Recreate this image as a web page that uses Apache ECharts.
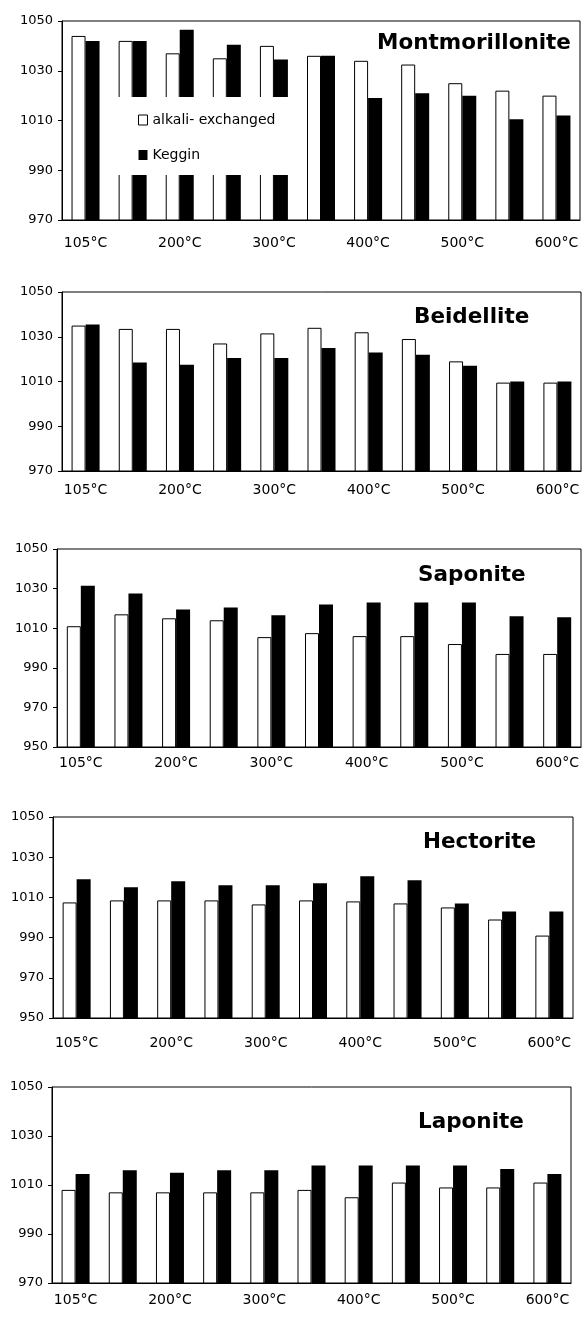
<!DOCTYPE html>
<html>
<head>
<meta charset="utf-8">
<title>Clay series</title>
<script src="https://cdn.jsdelivr.net/npm/echarts@6/dist/echarts.min.js"></script>
<style>
  html, body { margin: 0; padding: 0; background: #fff; }
  #chart { width: 585px; height: 1317px; }
</style>
</head>
<body>
<div id="chart"></div>
<script>
// Calcination temperatures (every other one is labelled)
const categories = ['105°C', '150°C', '200°C', '250°C', '300°C', '350°C',
                    '400°C', '450°C', '500°C', '550°C', '600°C'];

const seriesNames = ['alkali- exchanged', 'Keggin'];
const clayNames = ['Montmorillonite', 'Beidellite', 'Saponite', 'Hectorite', 'Laponite'];

// Values per clay: alkali-exchanged and Keggin-pillared
const montAlkali = [1044, 1042, 1037, 1035, 1040, 1036, 1034, 1032.5, 1025, 1022, 1020];
const montKeggin = [1042, 1042, 1046.5, 1040.5, 1034.5, 1036, 1019, 1021, 1020, 1010.5, 1012];
const beidAlkali = [1035, 1033.5, 1033.5, 1027, 1031.5, 1034, 1032, 1029, 1019, 1009.5, 1009.5];
const beidKeggin = [1035.5, 1018.5, 1017.5, 1020.5, 1020.5, 1025, 1023, 1022, 1017, 1010, 1010];
const sapAlkali  = [1011, 1017, 1015, 1014, 1005.5, 1007.5, 1006, 1006, 1002, 997, 997];
const sapKeggin  = [1031.5, 1027.5, 1019.5, 1020.5, 1016.5, 1022, 1023, 1023, 1023, 1016, 1015.5];
const hecAlkali  = [1007.5, 1008.5, 1008.5, 1008.5, 1006.5, 1008.5, 1008, 1007, 1005, 999, 991];
const hecKeggin  = [1019, 1015, 1018, 1016, 1016, 1017, 1020.5, 1018.5, 1007, 1003, 1003];
const lapAlkali  = [1008, 1007, 1007, 1007, 1007, 1008, 1005, 1011, 1009, 1009, 1011];
const lapKeggin  = [1014.5, 1016, 1015, 1016, 1016, 1018, 1018, 1018, 1018, 1016.5, 1014.5];

// Y tick labels
const ticksFrom970 = [970, 990, 1010, 1030, 1050];
const ticksFrom950 = [950, 970, 990, 1010, 1030, 1050];

const panelData = [
  { alkali: montAlkali, keggin: montKeggin, ticks: ticksFrom970 },
  { alkali: beidAlkali, keggin: beidKeggin, ticks: ticksFrom970 },
  { alkali: sapAlkali,  keggin: sapKeggin,  ticks: ticksFrom950 },
  { alkali: hecAlkali,  keggin: hecKeggin,  ticks: ticksFrom950 },
  { alkali: lapAlkali,  keggin: lapKeggin,  ticks: ticksFrom970 }
];

// Panel frames and label placement
const layout = [
  { left: 62, right: 5,  top: 21,   height: 199, labelMargin: 16, titleLeft: 377, titleTop: 32 },
  { left: 62, right: 4,  top: 292,  height: 179, labelMargin: 12, titleLeft: 414, titleTop: 306 },
  { left: 57, right: 4,  top: 549,  height: 198, labelMargin: 9,  titleLeft: 418, titleTop: 564 },
  { left: 53, right: 12, top: 817,  height: 201, labelMargin: 18, titleLeft: 423, titleTop: 831 },
  { left: 52, right: 14, top: 1087, height: 196, labelMargin: 10, titleLeft: 418, titleTop: 1111 }
];

const FONT = 'DejaVu Sans';

const grids = [], xAxes = [], yAxes = [], series = [], titles = [];

panelData.forEach((p, i) => {
  const L = layout[i];
  grids.push({
    left: L.left, right: L.right, top: L.top, height: L.height,
    show: true, borderColor: '#000', borderWidth: 1, backgroundColor: '#fff'
  });
  xAxes.push({
    type: 'category', gridIndex: i, data: categories, boundaryGap: true,
    axisLine: { lineStyle: { color: '#000', width: 1 } },
    axisTick: { show: false },
    axisLabel: { interval: 1, color: '#000', fontFamily: FONT, fontSize: 14, margin: L.labelMargin }
  });
  yAxes.push({
    type: 'value', gridIndex: i,
    min: p.ticks[0], max: p.ticks[p.ticks.length - 1],
    splitLine: { show: false },
    axisLine: { show: true, lineStyle: { color: '#000', width: 1 } },
    axisTick: { show: true, length: 4, customValues: p.ticks, lineStyle: { color: '#000' } },
    axisLabel: {
      customValues: p.ticks, color: '#000', fontFamily: FONT, fontSize: 13, margin: 9,
      formatter: (v) => String(v)
    }
  });
  series.push({
    name: seriesNames[0], type: 'bar', xAxisIndex: i, yAxisIndex: i,
    data: p.alkali, barWidth: 14, barGap: '0%', clip: true,
    itemStyle: { color: '#fff', borderColor: '#000', borderWidth: 1 },
    emphasis: { disabled: true }
  });
  series.push({
    name: seriesNames[1], type: 'bar', xAxisIndex: i, yAxisIndex: i,
    data: p.keggin, barWidth: 14, barGap: '0%', clip: true,
    itemStyle: { color: '#000' },
    emphasis: { disabled: true }
  });
  titles.push({
    text: clayNames[i], left: L.titleLeft, top: L.titleTop, padding: 0,
    textStyle: { fontFamily: FONT, fontSize: 21.5, fontWeight: 'bold', color: '#000' }
  });
});

const chart = echarts.init(document.getElementById('chart'), null, { renderer: 'canvas' });
chart.setOption({
  backgroundColor: '#fff',
  animation: false,
  title: titles,
  legend: {
    orient: 'vertical', left: 110, top: 97,
    padding: [16, 21, 13, 28], itemGap: 21,
    itemWidth: 9, itemHeight: 10,
    backgroundColor: '#fff', selectedMode: false,
    textStyle: { fontFamily: FONT, fontSize: 14, color: '#000', lineHeight: 14 },
    data: [
      { name: seriesNames[0], icon: 'rect', itemStyle: { color: '#fff', borderColor: '#000', borderWidth: 1 } },
      { name: seriesNames[1], icon: 'rect', itemStyle: { color: '#000' } }
    ]
  },
  grid: grids,
  xAxis: xAxes,
  yAxis: yAxes,
  series: series
});
</script>
</body>
</html>
